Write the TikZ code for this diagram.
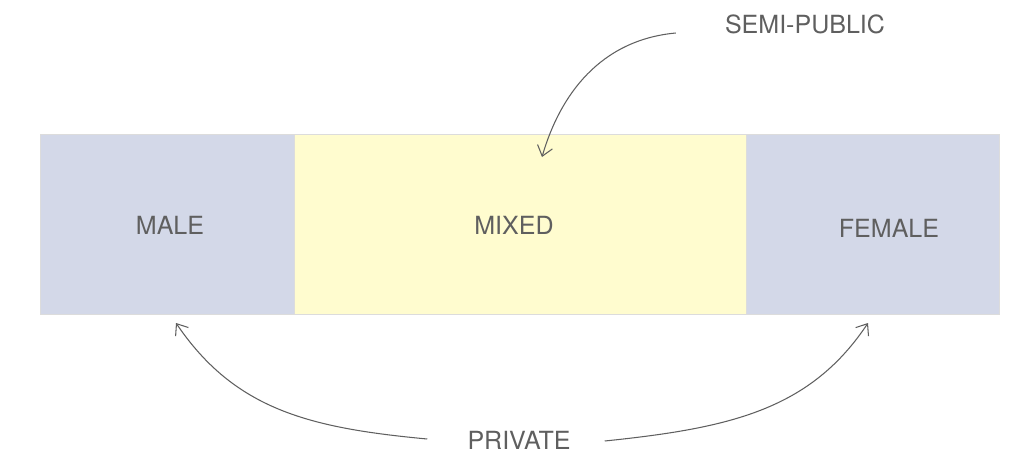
\documentclass[tikz,border=0pt]{standalone}
\usepackage{fontspec}
\setmainfont{TeX Gyre Heros}
\usetikzlibrary{arrows.meta,calc}
\definecolor{zoneblue}{HTML}{D3D8E8}
\definecolor{zoneyellow}{HTML}{FFFCCF}
\definecolor{zoneedge}{HTML}{DCDCDC}
\definecolor{inkgray}{HTML}{5F5F5F}
\tikzset{
  zone/.style={draw=zoneedge, line width=0.4pt, minimum height=180*0.025cm, inner sep=0pt},
  tag/.style={text=inkgray, font=\fontsize{17.8}{20}\selectfont, inner sep=0pt},
  pointer/.style={draw=inkgray, line width=0.75pt, -{Straight Barb[length=7pt, width=11pt, line width=0.75pt]}}
}
\begin{document}
\begin{tikzpicture}[x=0.025cm, y=-0.025cm]
    \useasboundingbox (0,0) rectangle (1021,461);

    % Zones
    \node[zone, fill=zoneblue, minimum width=254*0.025cm] (male) at (167,224) {};
    \node[zone, fill=zoneyellow, minimum width=452*0.025cm] (mixed) at (520,224) {};
    \node[zone, fill=zoneblue, minimum width=253*0.025cm] (female) at (872.5,224) {};

    % Labels
    \node[tag] (maletag) at (170,225) {MALE};
    \node[tag] (mixedtag) at (514,225) {MIXED};
    \node[tag] (femaletag) at (889,228) {FEMALE};
    \node[tag] (semipublic) at (805,24) {SEMI-PUBLIC};
    \node[tag] (private) at (519,440) {PRIVATE};

    % Arrow tips
    \coordinate (semitip) at (542,157);
    \coordinate (maletip) at (176,323);
    \coordinate (femaletip) at (868,323);

    % Arrows
    \draw[pointer] ($(semipublic.west)+(-49,9)$) .. controls (600,40) and (560,95) .. (semitip);
    \draw[pointer] ($(private.west)+(-40,-1)$) .. controls (310,428) and (235,410) .. (maletip);
    \draw[pointer] ($(private.east)+(34,1)$) .. controls (730,428) and (810,410) .. (femaletip);
\end{tikzpicture}
\end{document}
